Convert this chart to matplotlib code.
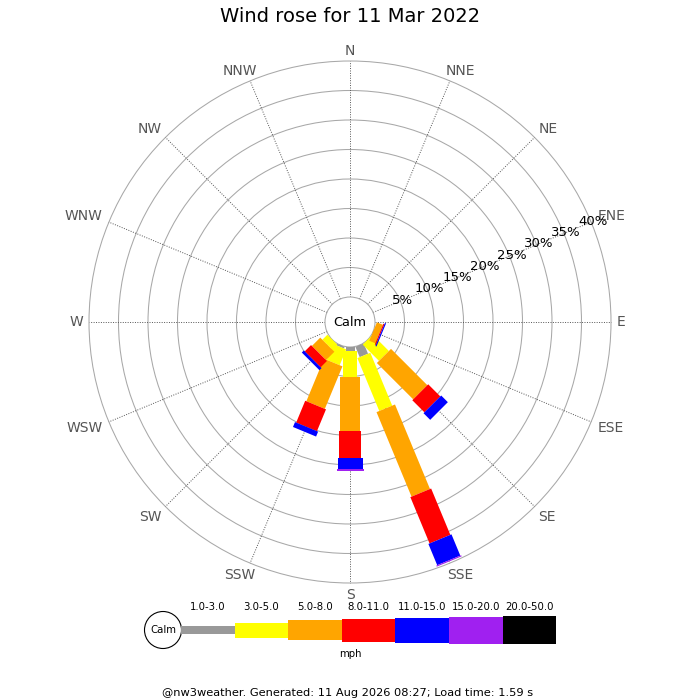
import matplotlib
matplotlib.use("Agg")
import matplotlib.pyplot as plt
import matplotlib.patches as mpatches
import matplotlib.transforms as mtransforms
import numpy as np

# ── Data ──────────────────────────────────────────────────────────────────────
DIRECTIONS = ["N", "NNE", "NE", "ENE", "E", "ESE", "SE", "SSE",
              "S", "SSW", "SW", "WSW", "W", "WNW", "NW", "NNW"]
SPEED_BINS = ["1.0-3.0", "3.0-5.0", "5.0-8.0", "8.0-11.0",
              "11.0-15.0", "15.0-20.0", "20.0-50.0"]
BIN_COLORS = ["#999999", "#FFFF00", "#FFA500", "#FF0000",
              "#0000FF", "#A020F0", "#000000"]

# % of the day per direction (N clockwise), one list per speed bin (mph)
pct_1_3   = [0, 0, 0, 0, 0, 0.0, 0.0, 1.9, 0.6, 0.3, 0.0, 0, 0, 0, 0, 0]
pct_3_5   = [0, 0, 0, 0, 0, 0.0, 3.9, 9.7, 4.5, 2.9, 1.2, 0, 0, 0, 0, 0]
pct_5_8   = [0, 0, 0, 0, 0, 1.1, 8.7, 15.5, 9.1, 7.8, 2.0, 0, 0, 0, 0, 0]
pct_8_11  = [0, 0, 0, 0, 0, 0.2, 2.9, 8.5, 4.6, 4.0, 1.5, 0, 0, 0, 0, 0]
pct_11_15 = [0, 0, 0, 0, 0, 0.2, 1.6, 3.9, 1.9, 0.9, 0.5, 0, 0, 0, 0, 0]
pct_15_20 = [0, 0, 0, 0, 0, 0.0, 0.0, 0.2, 0.3, 0.0, 0.0, 0, 0, 0, 0, 0]
pct_20_50 = [0] * 16

RING_TICKS = [5, 10, 15, 20, 25, 30, 35, 40]
TITLE  = "Wind rose for 11 Mar 2022"
FOOTER = "@nw3weather. Generated: 11 Aug 2026 08:27; Load time: 1.59 s"

# ── Styling (pixel based) ─────────────────────────────────────────────────────
PX       = 5.9          # pixels per percent
CALM_PX  = 25.0         # calm circle radius
CX, CY   = 350, 322     # rose centre in pixels (from top-left)
BAR_PX   = [9, 14, 20, 22.5, 25, 27, 28.5]
LEG_PX   = [8, 15, 20, 23, 25, 27, 28]

calm = CALM_PX / PX
rmax = max(RING_TICKS)


def label_layout(s, c):
    """Alignment and pixel offset of a compass label at the ring end."""
    sx = 0 if abs(s) < 1e-9 else np.sign(s)
    sy = 0 if abs(c) < 1e-9 else np.sign(c)
    side = {1: "left", -1: "right", 0: "center"}[sx]
    vert = {1: "bottom", -1: "top", 0: "center"}[sy]
    if abs(s) < 0.1:
        return "center", vert, 0, (3 if sy > 0 else -5)
    if abs(s) < 0.5:
        return "center", vert, 10 * sx, (3 if sy > 0 else -5)
    if abs(s) < 0.8:
        return side, vert, 4 * sx, (1.5 if sy > 0 else -3.5)
    if abs(c) > 0.1:
        return side, "center", 6 * sx, 6 * sy
    return side, "center", 5.5 * sx, 0


fig = plt.figure(figsize=(7, 7), dpi=100)
ax = fig.add_axes([0, 0, 1, 1])
ax.set_xlim(-CX / PX, (700 - CX) / PX)
ax.set_ylim(-(700 - CY) / PX, CY / PX)
ax.set_aspect("equal")
ax.axis("off")

# rings
for t in RING_TICKS:
    ax.add_patch(mpatches.Circle((0, 0), calm + t, fill=False,
                                 edgecolor="#a8a8a8", lw=0.75, zorder=1))

# radial lines and compass labels (anchored at the outer ring end)
angles = np.arange(16) * 22.5
for ang, name in zip(angles, DIRECTIONS):
    a = np.deg2rad(ang)
    s, c = np.sin(a), np.cos(a)
    ax.plot([calm * s, (calm + rmax) * s], [calm * c, (calm + rmax) * c],
            color="#555555", lw=0.7, ls=(0, (1, 1.5)), zorder=1)
    ha, va, dx, dy = label_layout(s, c)
    r = calm + rmax
    ax.annotate(name, xy=(r * s, r * c), xytext=(dx, dy),
                textcoords="offset pixels", ha=ha, va=va,
                fontsize=10, color="#555555")

# percentage labels along ENE
a = np.deg2rad(67.5)
for t in RING_TICKS:
    rl = calm + t + 0.4
    ax.text(rl * np.sin(a), rl * np.cos(a), f"{t}%", ha="center",
            va="center", fontsize=9.5, color="black", zorder=4)

# stacked bars
series = [pct_1_3, pct_3_5, pct_5_8, pct_8_11, pct_11_15, pct_15_20, pct_20_50]
cum = np.zeros(16)
for vals, color, wpx in zip(series, BIN_COLORS, BAR_PX):
    vals = np.asarray(vals, dtype=float)
    w = wpx / PX
    for i, ang in enumerate(angles):
        if vals[i] <= 0:
            continue
        rot = mtransforms.Affine2D().rotate_deg(-ang) + ax.transData
        ax.add_patch(mpatches.Rectangle((-w / 2, calm + cum[i]), w, vals[i],
                                        facecolor=color, edgecolor="none",
                                        transform=rot, zorder=3))
    cum += vals

# calm circle
ax.add_patch(mpatches.Circle((0, 0), calm, facecolor="white",
                             edgecolor="#a8a8a8", lw=0.75, zorder=2))
ax.text(0, 0, "Calm", ha="center", va="center", fontsize=9.3, zorder=5)

# ── Legend (pixel axes) ───────────────────────────────────────────────────────
lax = fig.add_axes([0, 0, 1, 1])
lax.set_xlim(0, 700)
lax.set_ylim(700, 0)
lax.axis("off")
lax.patch.set_alpha(0)

x0, seg, ly = 181, 53.6, 630
lax.add_patch(mpatches.Circle((163, ly), 18.5, facecolor="white",
                              edgecolor="black", lw=0.8))
lax.text(163, ly, "Calm", ha="center", va="center", fontsize=7.3)
for k, (lab, color, h) in enumerate(zip(SPEED_BINS, BIN_COLORS, LEG_PX)):
    xs = x0 + k * seg
    lax.add_patch(mpatches.Rectangle((xs, ly - h / 2), seg, h,
                                     facecolor=color, edgecolor="none"))
    lax.text(xs + seg / 2, 607, lab, ha="center", va="center", fontsize=7.3)
lax.text(350, 654, "mph", ha="center", va="center", fontsize=7.3)
lax.text(348, 693, FOOTER, ha="center", va="center", fontsize=8.2)
lax.text(350, 17, TITLE, ha="center", va="center", fontsize=14)

fig.savefig("out.png", dpi=100)
